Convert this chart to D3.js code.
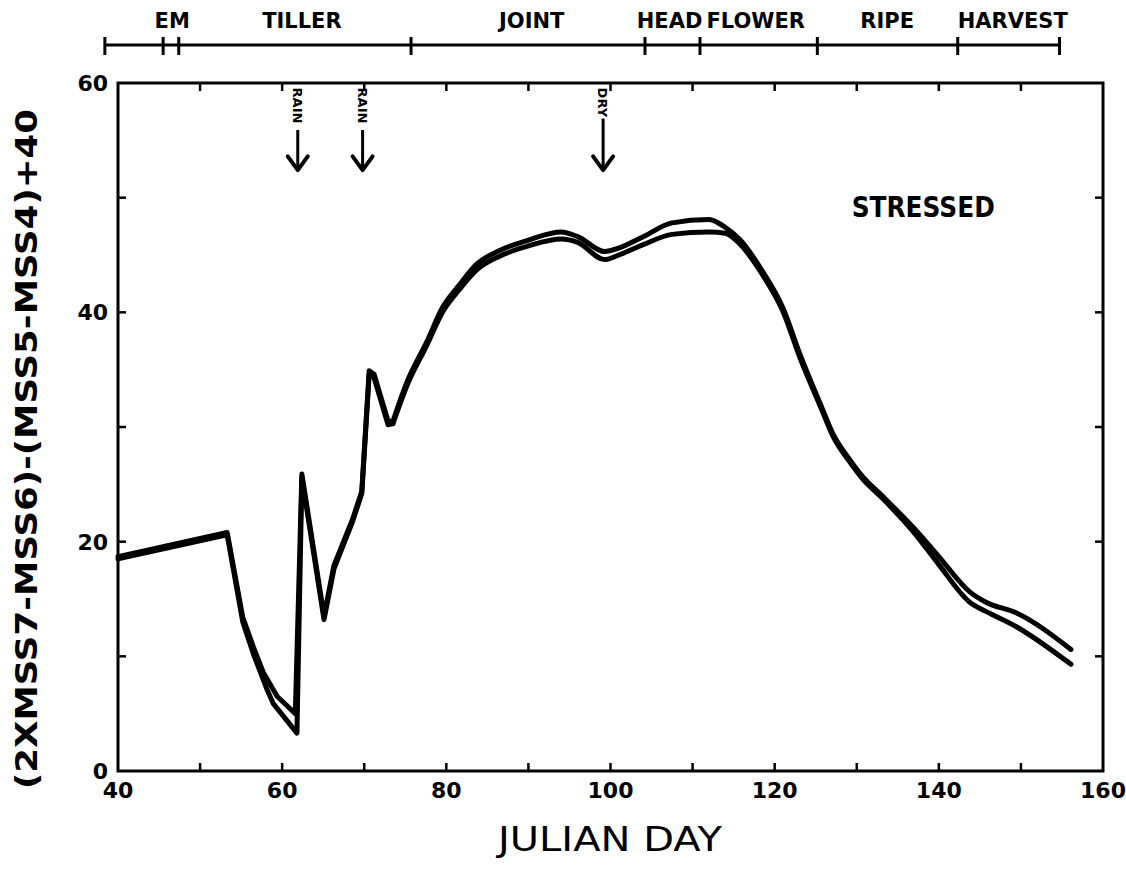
<!DOCTYPE html>
<html lang="en">
<head>
<meta charset="UTF-8">
<title>Stressed - Julian Day</title>
<style>
  body { margin: 0; background: #fff; }
  text { font-family: "DejaVu Sans", sans-serif; fill: #000; }
  .tick-label { font-size: 22px; font-weight: bold; }
  .phase-label { font-size: 21px; font-weight: bold; }
  .line { fill: none; stroke: #000; stroke-width: 5px; stroke-linejoin: round; stroke-linecap: round; }
</style>
</head>
<body>
<svg width="1126" height="877"></svg>
<script src="https://d3js.org/d3.v7.min.js"></script>
<script>
// series values (julian day, index value)
var daysA = [40, 53.3, 55.2, 56.5, 57.7, 59.4, 61.6, 62.4, 65.1, 66.3, 68.6, 69.7, 70.6, 71.2, 72.9, 73.5, 75.2, 77.6, 79.6, 81.6, 83.7, 86.5, 90, 94, 96, 99.3, 101, 104, 107.5, 112, 114, 115.7, 118.5, 121, 123.1, 125.8, 127.1, 129.1, 130.8, 133.1, 137.2, 140, 143.8, 145.8, 149.4, 156.1];
var valsA = [18.7, 20.8, 13.4, 10.8, 8.6, 6.5, 5.0, 25.9, 13.5, 17.9, 22.0, 24.4, 34.9, 34.6, 30.5, 30.5, 33.9, 37.4, 40.5, 42.4, 44.2, 45.4, 46.3, 47.0, 46.6, 45.3, 45.6, 46.6, 47.8, 48.1, 47.4, 46.4, 43.6, 40.4, 36.3, 31.6, 29.4, 27.2, 25.6, 24.0, 21.0, 18.7, 15.6, 14.7, 13.8, 10.6];
var daysB = [40, 53.3, 55.2, 56.5, 58.1, 58.9, 61.8, 62.4, 65.1, 66.3, 68.6, 69.7, 70.6, 71.2, 72.9, 73.5, 75.2, 77.6, 79.6, 81.6, 83.7, 86.5, 90, 94, 96, 99.3, 101, 104, 107.5, 112, 114, 115.7, 118.5, 121, 123.1, 125.8, 127.1, 129.1, 130.8, 133.1, 137.2, 140, 143.8, 145.8, 149.4, 156.1];
var valsB = [18.5, 20.6, 13.0, 10.2, 7.2, 5.9, 3.3, 25.6, 13.2, 17.6, 21.8, 24.2, 34.6, 34.3, 30.2, 30.3, 33.6, 37.1, 40.1, 42.0, 43.7, 44.9, 45.8, 46.4, 46.1, 44.6, 45.0, 45.9, 46.8, 47.0, 46.9, 46.0, 43.3, 40.1, 36.0, 31.4, 29.2, 27.0, 25.4, 23.8, 20.6, 18.0, 14.7, 13.9, 12.6, 9.3];

// the plotted trace is angular up to this day, smooth after
var smoothFrom = 73.5;

// growth stages along the top bar
var phaseBounds = [38.4, 45.5, 47.4, 75.7, 104.2, 110.9, 125.2, 142.3, 154.7];
var phaseNames = ["EM", "TILLER", "JOINT", "HEAD", "FLOWER", "RIPE", "HARVEST"];
var phaseCenters = [46.6, 62.4, 90.4, 107.2, 117.7, 133.7, 149.0];

// weather events
var eventDays = [61.9, 69.8, 99.1];
var eventNames = ["RAIN", "RAIN", "DRY"];

var xTicks = [40, 60, 80, 100, 120, 140, 160];
var yTicks = [0, 20, 40, 60];

var svg = d3.select("svg");
var plotL = 118, plotR = 1103, plotT = 83, plotB = 771;

var x = d3.scaleLinear().domain([40, 160]).range([plotL, plotR]);
var y = d3.scaleLinear().domain([0, 60]).range([plotB, plotT]);

// frame
svg.append("rect")
    .attr("x", plotL).attr("y", plotT)
    .attr("width", plotR - plotL).attr("height", plotB - plotT)
    .attr("fill", "none").attr("stroke", "#000").attr("stroke-width", 3);

// inward ticks on all four sides
var minorX = d3.range(50, 160, 10);
var minorY = d3.range(10, 60, 10);
var tk = svg.append("g").attr("stroke", "#000").attr("stroke-width", 2.5);
minorX.forEach(function(d) {
  tk.append("line").attr("x1", x(d)).attr("x2", x(d)).attr("y1", plotB).attr("y2", plotB - 8);
  tk.append("line").attr("x1", x(d)).attr("x2", x(d)).attr("y1", plotT).attr("y2", plotT + 8);
});
minorY.forEach(function(d) {
  tk.append("line").attr("x1", plotL).attr("x2", plotL + 8).attr("y1", y(d)).attr("y2", y(d));
  tk.append("line").attr("x1", plotR).attr("x2", plotR - 8).attr("y1", y(d)).attr("y2", y(d));
});

svg.append("g").selectAll("text")
    .data(xTicks).enter().append("text")
    .attr("class", "tick-label")
    .attr("x", function(d) { return x(d); })
    .attr("y", plotB + 27)
    .attr("text-anchor", "middle")
    .text(function(d) { return d; });

svg.append("g").selectAll("text")
    .data(yTicks).enter().append("text")
    .attr("class", "tick-label")
    .attr("x", plotL - 10)
    .attr("y", function(d) { return y(d) + 8; })
    .attr("text-anchor", "end")
    .text(function(d) { return d; });

// axis titles
svg.append("text")
    .attr("x", 610).attr("y", 851)
    .attr("text-anchor", "middle")
    .attr("font-size", 33)
    .attr("textLength", 224).attr("lengthAdjust", "spacingAndGlyphs")
    .text("JULIAN DAY");

svg.append("text")
    .attr("transform", "translate(37,449) rotate(-90)")
    .attr("text-anchor", "middle")
    .attr("font-size", 30)
    .attr("font-weight", "bold")
    .attr("textLength", 680).attr("lengthAdjust", "spacingAndGlyphs")
    .text("(2XMSS7-MSS6)-(MSS5-MSS4)+40");

// phase bar
var pb = svg.append("g").attr("stroke", "#000").attr("stroke-width", 3);
pb.append("line")
    .attr("x1", x(phaseBounds[0])).attr("x2", x(phaseBounds[phaseBounds.length - 1]))
    .attr("y1", 45).attr("y2", 45);
phaseBounds.forEach(function(d) {
  pb.append("line").attr("x1", x(d)).attr("x2", x(d)).attr("y1", 37).attr("y2", 55);
});
svg.append("g").selectAll("text")
    .data(phaseNames).enter().append("text")
    .attr("class", "phase-label")
    .attr("x", function(d, i) { return x(phaseCenters[i]); })
    .attr("y", 28)
    .attr("text-anchor", "middle")
    .text(function(d) { return d; });

// event arrows
var ev = svg.append("g").selectAll("g")
    .data(eventDays).enter().append("g")
    .attr("transform", function(d) { return "translate(" + x(d) + ",0)"; });
ev.append("text")
    .attr("transform", "translate(-5," + (y(59.6)) + ") rotate(90)")
    .attr("font-size", 13).attr("font-weight", "bold")
    .text(function(d, i) { return eventNames[i]; });
ev.append("line")
    .attr("x1", 0).attr("x2", 0)
    .attr("y1", function(d, i) { return i == 2 ? y(56.9) : y(55.9); })
    .attr("y2", y(52.6))
    .attr("stroke", "#000").attr("stroke-width", 3);
ev.append("path")
    .attr("d", "M-10," + (y(53.6)) + " L0," + y(52.4) + " L10," + (y(53.6)))
    .attr("fill", "none").attr("stroke", "#000").attr("stroke-width", 4)
    .attr("stroke-linecap", "round").attr("stroke-linejoin", "round");

svg.append("text")
    .attr("x", x(138.1)).attr("y", y(48.3))
    .attr("text-anchor", "middle")
    .attr("font-size", 29).attr("font-weight", "bold")
    .attr("textLength", 143).attr("lengthAdjust", "spacingAndGlyphs")
    .text("STRESSED");

// curves: straight segments early on, smooth after smoothFrom
var sharp = d3.line()
    .x(function(d) { return x(d[0]); })
    .y(function(d) { return y(d[1]); });
var smooth = d3.line()
    .x(function(d) { return x(d[0]); })
    .y(function(d) { return y(d[1]); })
    .curve(d3.curveMonotoneX);

[[daysA, valsA], [daysB, valsB]].forEach(function(s) {
  var pts = d3.zip(s[0], s[1]);
  var early = pts.filter(function(p) { return p[0] <= smoothFrom; });
  var late = pts.filter(function(p) { return p[0] >= smoothFrom; });
  svg.append("path").attr("class", "line").attr("d", sharp(early));
  svg.append("path").attr("class", "line").attr("d", smooth(late));
});
</script>
</body>
</html>
